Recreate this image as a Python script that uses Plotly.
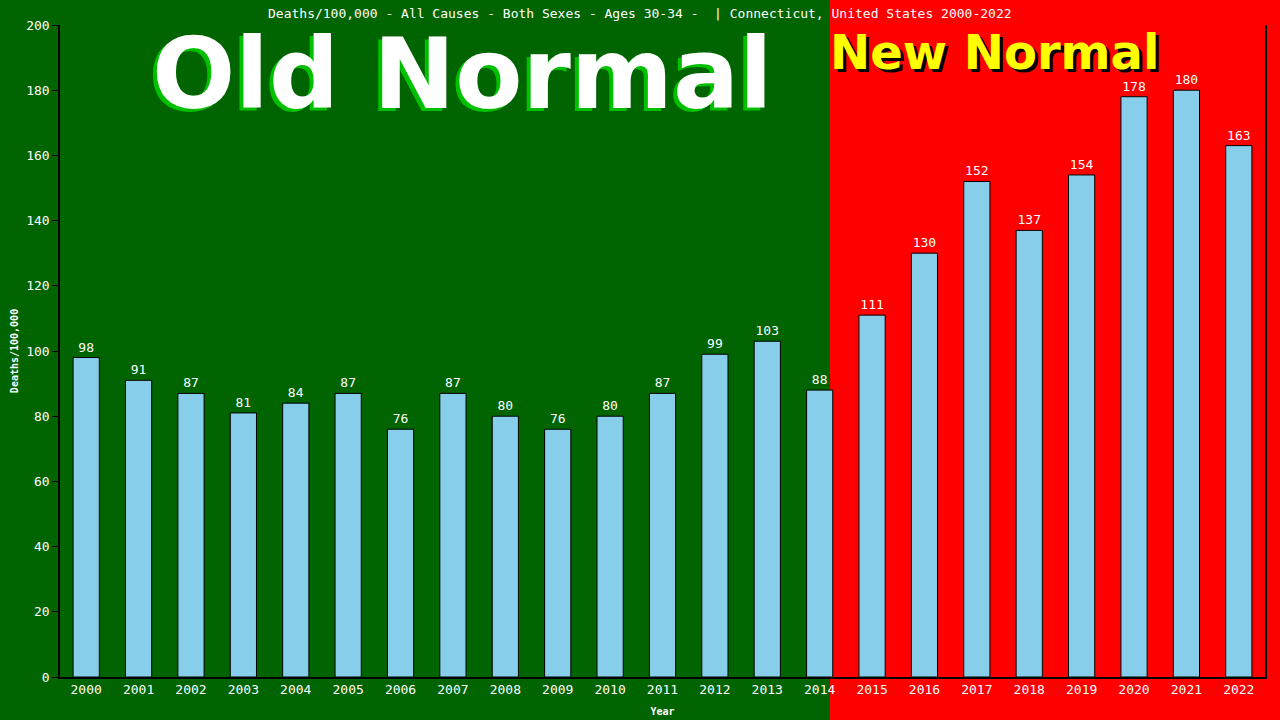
import plotly.graph_objects as go

years = [str(y) for y in range(2000, 2023)]
deaths = [98, 91, 87, 81, 84, 87, 76, 87, 80, 76, 80, 87, 99, 103, 88,
          111, 130, 152, 137, 154, 178, 180, 163]
y_ticks = list(range(0, 201, 20))

title_text = "Deaths/100,000 - All Causes - Both Sexes - Ages 30-34 -  | Connecticut, United States 2000-2022"
mono = "DejaVu Sans Mono"

fig = go.Figure()

fig.add_trace(go.Bar(
    x=years,
    y=deaths,
    width=0.5,
    marker=dict(color="#87CEEB", line=dict(color="black", width=1)),
    text=deaths,
    textposition="outside",
    textfont=dict(color="white", size=13, family=mono),
    cliponaxis=False,
))

# plot area spans 60..1265 px across, 25..677 px down
plot_w = 1265 - 60
plot_h = 677 - 25


def px_x(p):
    return (p - 60) / plot_w


def px_y(p):
    return (677 - p) / plot_h


fig.update_layout(
    width=1280,
    height=720,
    margin=dict(l=60, r=15, t=25, b=43),
    paper_bgcolor="#006400",
    plot_bgcolor="rgba(0,0,0,0)",
    showlegend=False,
    shapes=[
        dict(type="rect", xref="paper", yref="paper",
             x0=px_x(830), x1=1.2, y0=-0.2, y1=1.2,
             fillcolor="#ff0000", line=dict(width=0), layer="below"),
    ],
    annotations=[
        dict(text=title_text, xref="paper", yref="paper",
             x=px_x(640), y=px_y(13), xanchor="center", yanchor="middle",
             showarrow=False,
             font=dict(color="white", size=13, family=mono)),
        # Old Normal with green shadow
        dict(text="<b>Old Normal</b>", xref="paper", yref="paper",
             x=px_x(462), y=px_y(74), xanchor="center", yanchor="middle",
             xshift=-4, yshift=-3, showarrow=False,
             font=dict(color="#00c000", size=98, family="DejaVu Sans")),
        dict(text="<b>Old Normal</b>", xref="paper", yref="paper",
             x=px_x(462), y=px_y(74), xanchor="center", yanchor="middle",
             showarrow=False,
             font=dict(color="white", size=98, family="DejaVu Sans")),
        # New Normal with black shadow
        dict(text="<b>New Normal</b>", xref="paper", yref="paper",
             x=px_x(994), y=px_y(52), xanchor="center", yanchor="middle",
             xshift=3, yshift=-3, showarrow=False,
             font=dict(color="black", size=48, family="DejaVu Sans")),
        dict(text="<b>New Normal</b>", xref="paper", yref="paper",
             x=px_x(994), y=px_y(52), xanchor="center", yanchor="middle",
             showarrow=False,
             font=dict(color="#ffff00", size=48, family="DejaVu Sans")),
    ],
)

fig.update_xaxes(
    type="category",
    automargin=False,
    showline=True, linecolor="black", linewidth=1.5,
    ticks="", showgrid=False,
    tickfont=dict(color="white", size=13, family=mono),
    title=dict(text="<b>Year</b>", font=dict(color="white", size=10, family=mono),
               standoff=12),
)
fig.update_yaxes(
    range=[0, 200],
    tickvals=y_ticks,
    automargin=False,
    showline=True, linecolor="black", linewidth=1.5, mirror=True,
    ticks="outside", ticklen=6, tickcolor="black",
    showgrid=False, zeroline=False,
    tickfont=dict(color="white", size=13, family=mono),
    title=dict(text="<b>Deaths/100,000</b>", font=dict(color="white", size=10, family=mono),
               standoff=6),
)

fig.write_html("out.html",
               config={"displayModeBar": False},
               post_script="document.body.style.margin='0';document.body.style.overflow='hidden';")
